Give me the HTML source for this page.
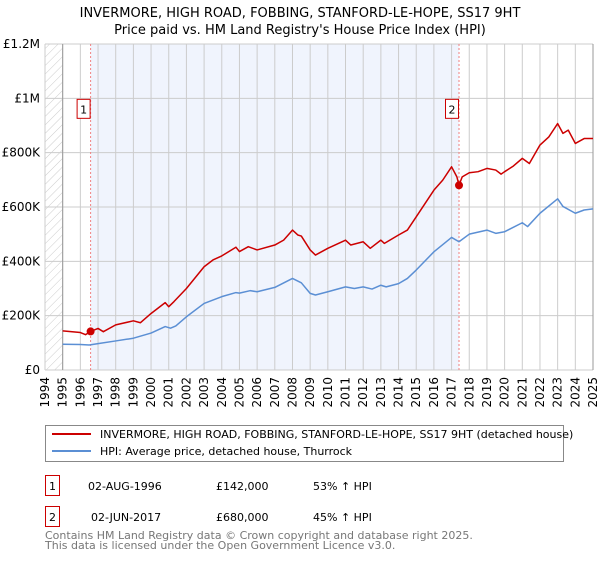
<!DOCTYPE html>
<html><head><meta charset="utf-8"><style>
body{margin:0;background:#fff;font-family:"DejaVu Sans","Liberation Sans",sans-serif;}
svg text{font-family:"DejaVu Sans","Liberation Sans",sans-serif;}
</style></head><body>
<svg id="chart" width="600" height="560" xmlns="http://www.w3.org/2000/svg">
<defs><pattern id="hatch" patternUnits="userSpaceOnUse" width="6" height="6" patternTransform="rotate(45)"><line x1="0" y1="0" x2="0" y2="6" stroke="#ccc" stroke-width="1"/></pattern></defs>
<text x="300" y="17" text-anchor="middle" font-size="13">INVERMORE, HIGH ROAD, FOBBING, STANFORD-LE-HOPE, SS17 9HT</text>
<text x="300" y="34" text-anchor="middle" font-size="13">Price paid vs. HM Land Registry's House Price Index (HPI)</text>
<g id="plot"></g>
<rect x="45.5" y="425.5" width="518" height="36" fill="#fff" stroke="#888"/>
<line x1="52" y1="434" x2="91" y2="434" stroke="#cc0000" stroke-width="2"/>
<text x="100" y="438" font-size="11">INVERMORE, HIGH ROAD, FOBBING, STANFORD-LE-HOPE, SS17 9HT (detached house)</text>
<line x1="52" y1="451" x2="91" y2="451" stroke="#5b8fd4" stroke-width="2"/>
<text x="100" y="455" font-size="11">HPI: Average price, detached house, Thurrock</text>
<g font-size="11">
<rect x="45.5" y="475.5" width="14" height="20" fill="#fff" stroke="#cc0000"/><text x="52.5" y="490" text-anchor="middle">1</text>
<text x="88" y="490">02-AUG-1996</text><text x="216" y="490">£142,000</text><text x="313" y="490">53% ↑ HPI</text></g>
<g font-size="11">
<rect x="45.5" y="506.5" width="14" height="20" fill="#fff" stroke="#cc0000"/><text x="52.5" y="521" text-anchor="middle">2</text>
<text x="91" y="521">02-JUN-2017</text><text x="216" y="521">£680,000</text><text x="313" y="521">45% ↑ HPI</text></g>
<text x="45" y="539" font-size="11" fill="#777">Contains HM Land Registry data © Crown copyright and database right 2025.</text>
<text x="45" y="549" font-size="11" fill="#777">This data is licensed under the Open Government Licence v3.0.</text>
</svg>
<script>
const yTicks=[0,200000,400000,600000,800000,1000000,1200000];
const yTickLabels=["£0","£200K","£400K","£600K","£800K","£1M","£1.2M"];
const xYears=[1994,1995,1996,1997,1998,1999,2000,2001,2002,2003,2004,2005,2006,2007,2008,2009,2010,2011,2012,2013,2014,2015,2016,2017,2018,2019,2020,2021,2022,2023,2024,2025];
const hpiDates=[1995,1996,1996.5,1997,1998,1999,2000,2000.8,2001.1,2001.4,2002,2003,2004,2004.8,2005,2005.6,2006,2007,2008,2008.5,2009,2009.3,2010,2011,2011.5,2012,2012.5,2013,2013.3,2014,2014.5,2015,2016,2017,2017.42,2018,2019,2019.5,2020,2021,2021.3,2022,2023,2023.3,2024,2024.5,2025];
const hpiValues=[95000,94000,92000,97000,107000,117000,136000,160000,154000,162000,196000,245000,270000,285000,283000,292000,288000,304000,337000,321000,282000,276000,288000,306000,300000,306000,298000,312000,306000,318000,337000,368000,435000,488000,472000,500000,515000,503000,509000,542000,528000,577000,630000,602000,577000,589000,593000];
const propDates=[1995,1996,1996.3,1996.58,1997,1997.3,1998,1999,1999.4,2000,2000.8,2001,2001.3,2002,2003,2003.5,2004,2004.8,2005,2005.5,2006,2007,2007.5,2008,2008.3,2008.5,2009,2009.3,2010,2011,2011.3,2012,2012.4,2013,2013.2,2014,2014.5,2015,2016,2016.5,2017,2017.3,2017.42,2017.6,2018,2018.5,2019,2019.5,2019.8,2020,2020.5,2021,2021.4,2022,2022.5,2023,2023.3,2023.6,2024,2024.5,2025];
const propValues=[144000,138000,130000,142000,153000,141000,166000,181000,174000,208000,248000,233000,252000,300000,380000,405000,420000,452000,436000,454000,442000,460000,478000,515000,497000,493000,442000,423000,448000,478000,460000,472000,448000,478000,466000,497000,515000,564000,662000,699000,748000,711000,680000,711000,726000,730000,742000,736000,721000,730000,751000,779000,760000,828000,858000,907000,871000,883000,834000,852000,852000];
const saleDates=[1996.58,2017.42];
const saleValues=[142000,680000];
const saleLabels=["1","2"];

const X0=45,X1=593,Y0=370,Y1=44;
const xs=t=>X0+(t-1994)/(2025-1994)*(X1-X0);
const ys=v=>Y0-v/1200000*(Y0-Y1);
const NS="http://www.w3.org/2000/svg";
const g=document.getElementById('plot');
function mk(tag,attrs,parent){const e=document.createElementNS(NS,tag);for(const k in attrs)e.setAttribute(k,attrs[k]);(parent||g).appendChild(e);return e;}

let r=mk('rect',{x:X0,y:Y1,width:xs(1995)-X0,height:Y0-Y1,fill:'url(#hatch)'});


r=mk('rect',{x:xs(saleDates[0]),y:Y1,width:xs(saleDates[1])-xs(saleDates[0]),height:Y0-Y1,fill:'#f0f4fd'});



yTicks.forEach((v,i)=>{
 const l=mk('line',{x1:X0,x2:X1,y1:ys(v),y2:ys(v),stroke:'#ccc','stroke-width':1});
 
 
 const t=mk('text',{x:40,y:ys(v)+4,'text-anchor':'end','font-size':12});
 
 
 t.textContent=yTickLabels[i];
});
xYears.forEach(yr=>{
 const l=mk('line',{x1:xs(yr),x2:xs(yr),y1:Y1,y2:Y0,stroke:'#ccc','stroke-width':1});
 
 
 const t=mk('text',{x:0,y:0,'text-anchor':'end','font-size':12,transform:`translate(${xs(yr)+4},377) rotate(-90)`});
 
 
 t.textContent=yr;
});
let ax=mk('line',{x1:xs(1995),x2:xs(1995),y1:Y1,y2:Y0,stroke:'#999'});


ax=mk('line',{x1:X1,x2:X1,y1:Y1,y2:Y0,stroke:'#999'});



saleDates.forEach((d,i)=>{
 const l=mk('line',{x1:xs(d),x2:xs(d),y1:Y1,y2:Y0,stroke:'#f08080','stroke-dasharray':'2,2'});
 
 
 const bx=mk('rect',{x:xs(d)-13.5,y:ys(1000000)+1,width:13,height:19,fill:'#fff',stroke:'#cc0000'});
 
 
 const t=mk('text',{x:xs(d)-7,y:ys(1000000)+15,'text-anchor':'middle','font-size':11});
 
 
 t.textContent=saleLabels[i];
});

function line(dates,vals,color,name){
 const p=mk('polyline',{points:dates.map((d,i)=>xs(d)+','+ys(vals[i])).join(' '),fill:'none',stroke:color,'stroke-width':1.5,'stroke-linejoin':'round'});
 
 
}
line(hpiDates,hpiValues,'#5b8fd4','hpi-line');
line(propDates,propValues,'#cc0000','property-price-line');
saleDates.forEach((d,i)=>{
 const c=mk('circle',{cx:xs(d),cy:ys(saleValues[i]),r:4,fill:'#cc0000'});
 
 
});
</script>
</body></html>
